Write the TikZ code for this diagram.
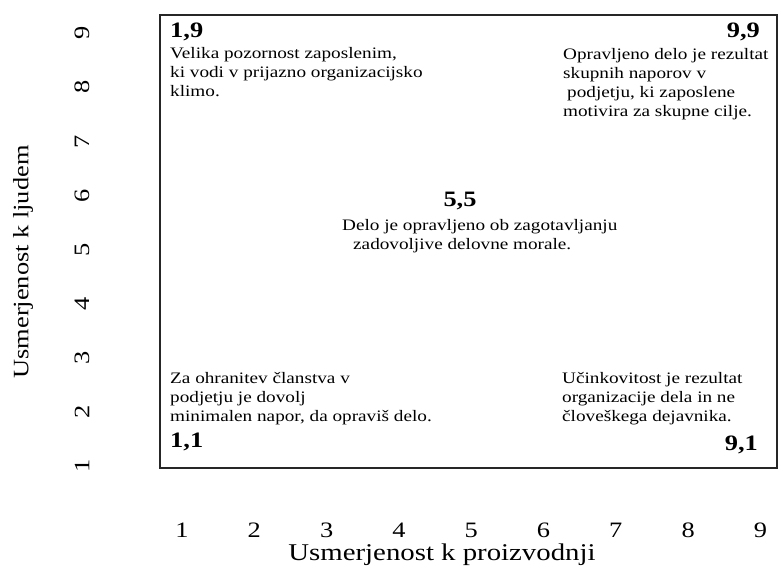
\documentclass[tikz,border=0pt]{standalone}
\usepackage{fontspec}
\setmainfont{Liberation Serif}
\newfontfamily\gridfont[FakeStretch=1.2]{Liberation Serif}
\usetikzlibrary{positioning}

\begin{document}
\begin{tikzpicture}[
  x=1pt, y=-1pt,
  font=\gridfont,
  frame/.style={draw=black!85, line width=1.6pt},
  corner/.style={font=\gridfont\fontsize{22}{22}\selectfont\bfseries, inner sep=0pt},
  desc/.style={font=\gridfont\fontsize{16}{19}\selectfont, align=left,
               inner sep=0pt, anchor=north west},
  tick/.style={font=\gridfont\fontsize{22}{22}\selectfont, inner sep=0pt},
  axis/.style={font=\gridfont\fontsize{24}{24}\selectfont, inner sep=0pt}
]
\useasboundingbox (0,0) rectangle (779,579);

% ---- grid frame ----
\draw[frame] (160,15) rectangle (777,468);

% ---- axis numbers ----
\foreach \k in {1,...,9} {
  \pgfmathsetmacro\xc{182+(\k-1)*72.3}
  \pgfmathsetmacro\yc{466-(\k-1)*54.1}
  \node[tick, anchor=base] (x\k) at (\xc, 537) {\k};
  \node[tick, rotate=90] (y\k) at (82, \yc) {\k};
}

% ---- axis titles ----
\node[axis, anchor=base] (xlab) at (442, 560) {Usmerjenost k proizvodnji};
\node[axis, font=\gridfont\fontsize{22}{22}\selectfont, rotate=90] (ylab) at (23, 262)
  {Usmerjenost k ljudem};

% ---- corner styles ----
\node[corner, anchor=base west] (c19) at (170, 37) {1,9};
\node[corner, anchor=base east] (c99) at (760, 37) {9,9};
\node[corner, anchor=base] (c55) at (460, 206) {5,5};
\node[corner, anchor=base west] (c11) at (170, 447) {1,1};
\node[corner, anchor=base east] (c91) at (758, 450) {9,1};

\node[desc] (t19) at (170, 47)
  {Velika pozornost zaposlenim,\\ki vodi v prijazno organizacijsko\\klimo.};
\node[desc] (t99) at (563, 48)
  {Opravljeno delo je rezultat\\skupnih naporov v\\\hspace*{4pt}podjetju, ki zaposlene\\motivira za skupne cilje.};
\node[desc] (t55) at (342, 219)
  {Delo je opravljeno ob zagotavljanju\\\hspace*{11pt}zadovoljive delovne morale.};
\node[desc] (t11) at (170, 372)
  {Za ohranitev članstva v\\podjetju je dovolj\\minimalen napor, da opraviš delo.};
\node[desc] (t91) at (562, 372)
  {Učinkovitost je rezultat\\organizacije dela in ne\\človeškega dejavnika.};

\end{tikzpicture}
\end{document}
